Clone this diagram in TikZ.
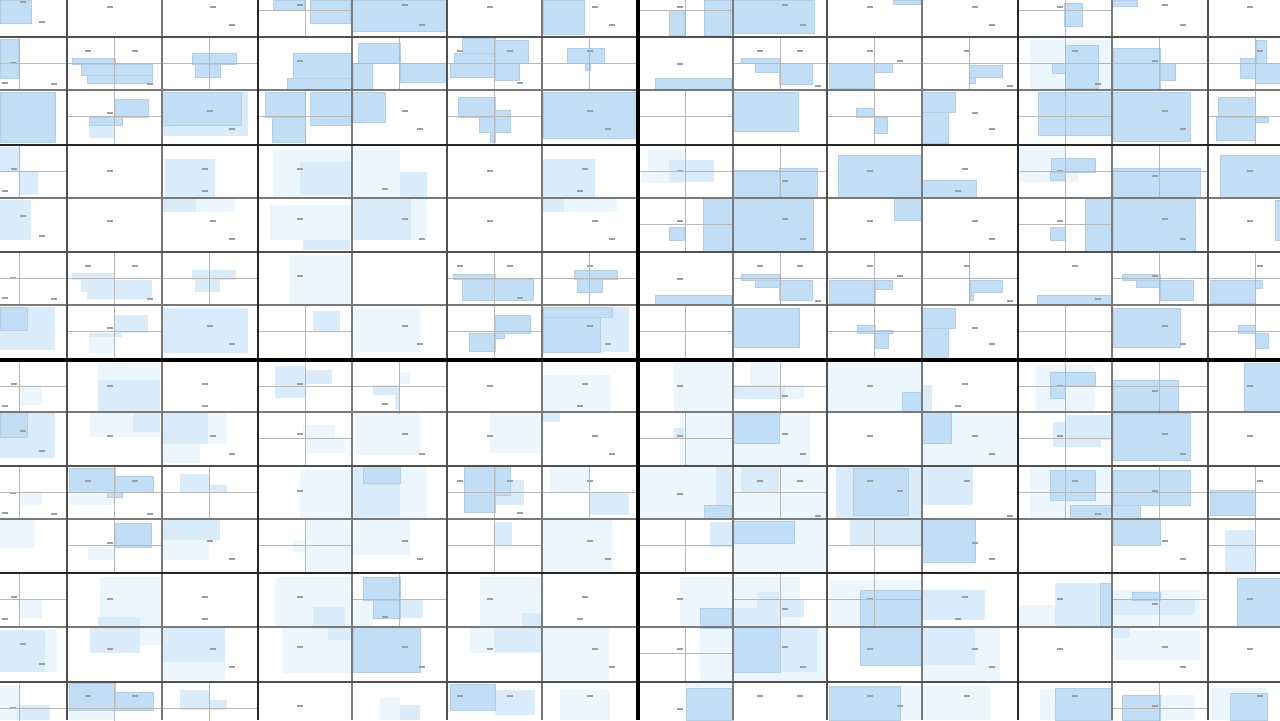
\documentclass[tikz,border=0pt]{standalone}
\usepackage{tikz}
\definecolor{paneblue}{HTML}{C2DDF6}
\definecolor{paleblue}{HTML}{DAEBFA}
\definecolor{mistblue}{HTML}{ECF6FD}
\definecolor{rulegray}{HTML}{7A7A7A}
\definecolor{crossgray}{HTML}{B8B8B8}
\definecolor{inkgray}{HTML}{505050}

\begin{document}
\begin{tikzpicture}[x=0.5pt, y=-0.5pt,
  pane/.style={fill=paneblue, draw=paneblue!93!black, line width=0.15pt},
  pale/.style={fill=paleblue},
  mist/.style={fill=mistblue},
  inkmark/.style={fill=black!38},
  crossline/.style={crossgray, line width=0.3pt},
  cellrule/.style={rulegray, line width=0.55pt},
  grouprule/.style={inkgray, line width=0.85pt},
  superrule/.style={black!85, line width=1.15pt}]
  \useasboundingbox (0,0) rectangle (1280,720);
  \clip (0,0) rectangle (1280,720);
  \fill[white] (0,0) rectangle (1280,720);

  % very light panels
  \foreach \xa/\ya/\xb/\yb in {1030/40/1112/90,
      196/198/235/212, 273/150/352/198, 352/147/400/198, 270/205/352/240, 411/198/427/240,
      564/198/617/212, 648/150/684/172, 642/172/684/183, 1020/147/1065/172, 1020/172/1078/182,
      89/337/115/353, 290/255/352/305, 352/308/420/352,
      19/385/42/405, 98/363/160/411, 90/412/160/437, 162/444/200/463, 208/412/227/444,
      400/372/410/384, 303/425/335/438, 305/438/345/453, 355/412/420/455, 543/375/611/411,
      490/412/542/453, 674/362/731/412, 750/362/779/385, 785/385/804/399, 680/412/733/466,
      733/412/810/466, 827/363/921/412, 922/412/1018/466, 1036/365/1095/412,
      19/492/42/505, 0/519/35/548, 69/492/115/505, 88/547/115/560, 162/540/209/560,
      300/470/352/519, 400/466/427/519, 305/519/352/573, 293/540/305/552, 352/520/410/555,
      550/466/590/493, 543/520/612/573, 640/466/733/519, 733/466/827/519, 733/519/827/573,
      1030/466/1112/519,
      19/600/42/618, 45/630/57/672, 100/577/162/627, 140/627/162/645, 162/662/225/680,
      275/577/352/627, 353/600/373/627, 283/627/352/673, 480/577/542/627, 470/627/542/653,
      543/627/609/680, 680/577/733/627, 733/577/800/627, 700/627/733/682, 733/627/827/682,
      830/580/922/627, 922/627/1000/682, 1020/605/1112/627, 1113/590/1200/627, 1113/630/1200/660,
      0/685/20/720, 69/710/115/720, 380/698/400/720, 560/690/610/720, 685/682/733/720,
      900/686/990/720, 1040/690/1112/720, 1160/695/1195/720, 1212/688/1267/720}
    \fill[mist] (\xa,\ya) rectangle (\xb,\yb);

  % light panels
  \foreach \xa/\ya/\xb/\yb in {89/125/115/138, 162/92/248/136,
      0/147/19/172, 19/172/38/195, 0/200/31/240, 165/159/215/198, 162/198/196/212,
      300/162/352/195, 400/172/427/198, 303/240/350/250, 352/198/411/240, 543/159/595/198,
      543/198/564/212, 669/160/714/182,
      0/307/55/350, 72/273/115/280, 81/280/152/292, 87/292/152/299, 192/270/236/280,
      195/280/220/292, 115/315/148/333, 89/333/122/337, 162/308/248/353, 313/311/340/331,
      600/307/629/352,
      0/412/55/458, 98/380/160/411, 133/412/160/432, 162/412/208/444, 275/366/305/384,
      305/370/332/384, 275/384/305/398, 373/385/400/395, 395/395/400/410, 543/412/560/422,
      733/385/785/399, 674/428/684/438, 921/385/932/412, 1065/415/1111/440, 1062/440/1101/447,
      1053/422/1065/447,
      180/474/209/492, 209/485/227/492, 162/519/220/540, 353/466/400/519, 495/480/524/505,
      590/493/629/515, 495/522/512/545, 716/466/731/505, 741/466/779/493, 710/522/733/547,
      836/466/922/520, 920/466/973/505, 850/519/922/545, 1225/530/1255/572,
      0/630/45/672, 98/617/140/627, 90/627/140/653, 162/627/225/662, 313/607/345/627,
      400/600/423/618, 328/627/352/640, 522/613/542/627, 494/627/542/652, 757/592/779/612,
      779/600/804/617, 731/608/780/628, 779/627/817/672, 922/590/985/620, 922/627/975/665,
      1055/583/1112/627, 1113/600/1195/615, 1112/627/1130/638,
      17/705/50/720, 180/690/209/710, 209/700/227/710, 400/705/420/720, 495/690/535/715}
    \fill[pale] (\xa,\ya) rectangle (\xb,\yb);

  % blue panels
  \foreach \xa/\ya/\xb/\yb in {0/0/31/23, 273/0/304/10, 310/0/350/23, 352/0/446/31,
      543/0/584/34, 669/10/684/35, 704/0/730/35, 730/0/814/33, 893/0/921/4, 1064/3/1082/26,
      1113/0/1137/6,
      0/39/18/78, 72/58/115/64, 81/64/152/75, 87/75/152/83, 192/53/236/64, 195/64/220/77,
      115/99/148/117, 89/117/122/125, 162/92/241/125, 0/92/55/142, 293/53/352/90,
      287/78/352/90, 358/43/400/63, 353/63/372/90, 400/63/447/82, 265/92/305/117,
      272/117/305/142, 310/92/352/125, 353/92/385/122, 462/38/495/63, 454/53/495/63,
      495/40/528/63, 450/63/495/77, 495/63/519/80, 567/48/604/63, 585/63/590/70,
      458/97/495/117, 495/110/510/132, 479/117/495/132, 490/132/495/142, 543/92/636/138,
      655/78/731/90, 741/58/779/63, 755/63/779/72, 779/63/812/84, 733/92/798/131,
      829/63/874/88, 874/63/892/72, 969/65/1002/77, 969/77/975/83, 856/108/874/117,
      874/117/887/133, 922/92/955/112, 922/112/948/143, 1065/45/1098/88, 1052/63/1065/73,
      1113/48/1160/90, 1160/63/1175/80, 1038/92/1112/135, 1113/92/1190/141, 1256/40/1266/63,
      1240/58/1255/78, 1255/63/1280/83, 1218/97/1255/117, 1216/117/1255/140, 1255/117/1268/122,
      733/170/779/198, 779/168/817/198, 703/198/733/252, 669/227/684/240, 733/198/813/252,
      838/155/921/198, 922/180/976/198, 894/198/921/220, 1051/158/1095/172, 1050/172/1065/180,
      1113/168/1200/198, 1085/198/1112/252, 1050/227/1065/240, 1113/198/1195/252,
      1220/155/1280/198, 1275/200/1280/240,
      0/307/27/330, 453/274/495/279, 462/279/533/300, 574/270/617/279, 577/279/602/292,
      495/315/530/333, 495/333/504/338, 469/333/495/351, 543/307/612/317, 543/317/600/352,
      655/295/731/305, 741/274/779/280, 755/280/779/287, 779/280/812/300, 733/308/799/347,
      829/280/875/303, 875/280/892/289, 970/280/1002/292, 970/292/973/300, 857/325/875/333,
      875/333/888/348, 875/330/893/333, 922/308/955/328, 922/328/948/358, 1037/295/1111/305,
      1122/274/1160/280, 1136/280/1160/287, 1160/280/1193/300, 1113/308/1180/347,
      1210/280/1255/303, 1255/280/1262/288, 1238/325/1255/333, 1255/333/1268/348,
      0/412/27/437, 733/412/779/443, 902/392/921/412, 922/412/951/443, 1050/372/1095/385,
      1050/385/1065/398, 1113/380/1178/412, 1113/413/1190/460, 1244/363/1280/412,
      69/468/115/492, 115/476/153/492, 107/492/122/497, 115/523/151/547, 363/466/400/483,
      464/466/495/512, 495/466/510/495, 704/505/731/519, 733/521/794/543, 853/468/908/515,
      922/519/975/562, 1050/470/1095/500, 1113/470/1190/505, 1070/505/1140/518,
      1113/519/1160/545, 1210/490/1255/515,
      363/577/400/600, 373/600/400/618, 353/627/420/672, 700/608/731/628, 733/627/780/672,
      860/590/922/627, 860/627/922/665, 1100/583/1112/627, 1132/592/1160/600, 1237/578/1280/627,
      69/683/115/710, 115/692/153/710, 450/684/495/710, 686/688/733/720, 829/686/900/720,
      1055/688/1112/720, 1122/695/1160/720, 1230/693/1267/720}
    \draw[pane] (\xa,\ya) rectangle (\xb,\yb);

  % tiny labels inside the panels
  \foreach \dy in {0,215,430,645}
    \foreach \mx/\my in {13/62, 5/82, 54/83, 88/50, 135/50, 150/83, 110/112, 210/110, 232/128,
        300/60, 405/110, 420/128, 460/50, 510/50, 520/82, 590/50, 590/110, 608/128, 680/63,
        760/50, 800/50, 818/85, 870/50, 900/60, 967/50, 1010/85, 975/112, 992/128, 1075/50,
        1098/83, 1155/60, 1165/110, 1183/128, 1260/50}
      \fill[inkmark] (\mx-3,\my+\dy) rectangle (\mx+3,\my+\dy+1.5);
  \foreach \dy in {-214,0,215,428}
    \foreach \mx/\my in {14/168, 5/190, 23/215, 42/235, 110/170, 205/168, 205/190, 110/220,
        213/220, 232/238, 300/168, 385/188, 300/218, 405/218, 422/238, 490/170, 585/168,
        580/190, 490/220, 595/220, 612/238, 680/170, 680/220, 785/180, 785/218, 803/238,
        870/170, 965/168, 958/190, 870/220, 975/220, 992/238, 1060/170, 1155/175, 1060/220,
        1165/218, 1183/238, 1250/170, 1250/220}
      \fill[inkmark] (\mx-3,\my+\dy) rectangle (\mx+3,\my+\dy+1.5);

  % thin crosses of the four-panel cells
  \foreach \cy/\cols in {-16/{258,638,1018},
      37/{-28,67,162,352,447,542,733,827,922,1018,1112,1208},
      90/{67,258,447,638,827,1018,1208}, 145/{-28,638,733,1018,1112}, 198/{638,1018},
      252/{-28,67,162,447,542,733,827,922,1112,1208}, 305/{67,258,447,638,827,1018,1208},
      360/{-28,258,352,733,1018,1112}, 412/{258,638,1018},
      466/{-28,67,162,447,542,733,1018,1112,1208}, 519/{67,258,447,638,827,1208},
      573/{-28,352,733,827,1112}, 627/{638}, 682/{-28,67,162,1112}}
    \foreach \cx in \cols
      \draw[crossline] (\cx+47.5,\cy) -- (\cx+47.5,\cy+53.5)
        (\cx,\cy+26.75) -- (\cx+95,\cy+26.75);

  % cell, group and block rules
  \foreach \gx in {162,352,542,733,922,1112} \draw[cellrule] (\gx,0) -- (\gx,720);
  \foreach \gy in {90,198,305,412,519,627} \draw[cellrule] (0,\gy) -- (1280,\gy);
  \foreach \gx in {67,447,827,1208} \draw[grouprule] (\gx,0) -- (\gx,720);
  \foreach \gy in {37,252,466,682} \draw[grouprule] (0,\gy) -- (1280,\gy);
  \foreach \gx in {258,1018} \draw[superrule] (\gx,0) -- (\gx,720);
  \foreach \gy in {145,573} \draw[superrule] (0,\gy) -- (1280,\gy);
  \draw[black, line width=1.6pt] (638,0) -- (638,720) (0,360) -- (1280,360);
\end{tikzpicture}
\end{document}
